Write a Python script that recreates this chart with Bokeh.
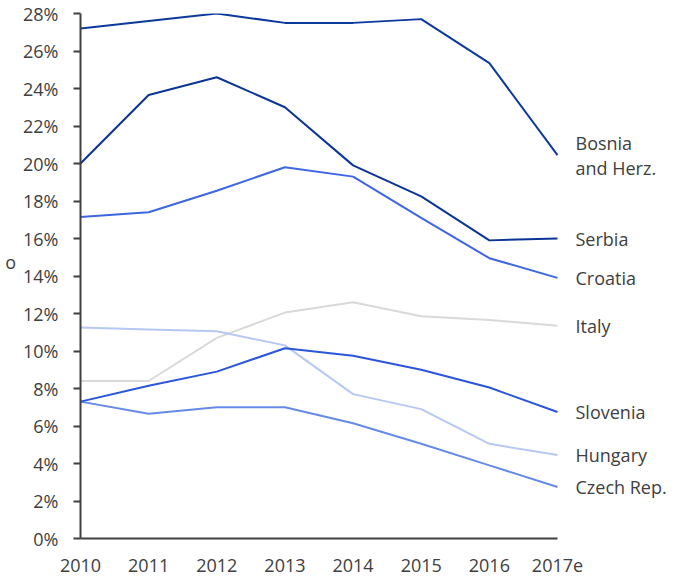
from bokeh.plotting import figure
from bokeh.models import Range1d, FixedTicker, Label
from bokeh.embed import file_html
from bokeh.resources import INLINE

years = ["2010", "2011", "2012", "2013", "2014", "2015", "2016", "2017e"]
y_ticks = [0, 2, 4, 6, 8, 10, 12, 14, 16, 18, 20, 22, 24, 26, 28]

bosnia = [27.2, 27.6, 28.0, 27.5, 27.5, 27.7, 25.35, 20.45]
serbia = [20.0, 23.65, 24.6, 23.0, 19.9, 18.25, 15.9, 16.0]
croatia = [17.15, 17.4, 18.55, 19.8, 19.3, 17.1, 14.95, 13.9]
italy = [8.4, 8.4, 10.7, 12.05, 12.6, 11.85, 11.65, 11.35]
hungary = [11.25, 11.15, 11.05, 10.3, 7.7, 6.9, 5.05, 4.45]
slovenia = [7.3, 8.15, 8.9, 10.15, 9.75, 9.0, 8.05, 6.75]
czech = [7.3, 6.65, 7.0, 7.0, 6.15, 5.05, 3.9, 2.75]

series = [
    ("Italy", italy, "#d9d9d9"),
    ("Hungary", hungary, "#b6c8f4"),
    ("Czech Rep.", czech, "#658ae9"),
    ("Slovenia", slovenia, "#2a55dc"),
    ("Croatia", croatia, "#3d66e2"),
    ("Serbia", serbia, "#0a3596"),
    ("Bosnia and Herz.", bosnia, "#0c3a9c"),
]

FONT = "Open Sans"
TXT = "#404040"

x = list(range(len(years)))
last = len(years) - 1

p = figure(width=680, height=578, output_backend="svg", toolbar_location=None,
           x_range=Range1d(0, last * 596 / 477), y_range=Range1d(0, 28),
           min_border_left=80, min_border_right=4, min_border_top=13,
           min_border_bottom=40)
p.outline_line_color = None
p.xgrid.visible = False
p.ygrid.visible = False
p.background_fill_color = "white"

for name, vals, col in series:
    p.line(x, vals, line_color=col, line_width=2)

# axes
p.yaxis.ticker = FixedTicker(ticks=y_ticks)
p.yaxis.major_label_overrides = {t: f"{t}%" for t in y_ticks}
p.yaxis.major_tick_in = 0
p.yaxis.major_tick_out = 7
p.yaxis.minor_tick_line_color = None
p.yaxis.major_tick_line_width = 2
p.yaxis.axis_line_width = 2
p.yaxis.axis_line_color = "#404040"
p.yaxis.major_tick_line_color = "#404040"
p.yaxis.major_label_text_font = FONT
p.yaxis.major_label_text_font_size = "18px"
p.yaxis.major_label_text_color = TXT
p.yaxis.major_label_standoff = 15
p.yaxis.axis_label = "o\n\u00a0"
p.yaxis.axis_label_orientation = "horizontal"
p.yaxis.axis_label_standoff = 4
p.yaxis.axis_label_text_font = FONT
p.yaxis.axis_label_text_font_size = "18px"
p.yaxis.axis_label_text_font_style = "normal"
p.yaxis.axis_label_text_color = TXT

p.xaxis.ticker = FixedTicker(ticks=x)
p.xaxis.bounds = (0, last)
p.xaxis.major_label_overrides = {i: y for i, y in enumerate(years)}
p.xaxis.major_tick_in = 0
p.xaxis.major_tick_out = 0
p.xaxis.minor_tick_line_color = None
p.xaxis.axis_line_width = 2
p.xaxis.axis_line_color = "#404040"
p.xaxis.major_label_text_font = FONT
p.xaxis.major_label_text_font_size = "18px"
p.xaxis.major_label_text_color = TXT
p.xaxis.major_label_standoff = 20

# end labels
end_labels = [
    ("Bosnia", bosnia[-1] + 0.65),
    ("and Herz.", bosnia[-1] - 0.7),
    ("Serbia", serbia[-1]),
    ("Croatia", croatia[-1]),
    ("Italy", italy[-1]),
    ("Slovenia", slovenia[-1]),
    ("Hungary", hungary[-1]),
    ("Czech Rep.", czech[-1]),
]
for txt, yv in end_labels:
    p.add_layout(Label(x=last, y=yv, x_offset=18, text=txt, text_font=FONT,
                       text_font_size="18px", text_color=TXT,
                       text_align="left", text_baseline="middle"))

open("out.html", "w").write(file_html(p, INLINE))
